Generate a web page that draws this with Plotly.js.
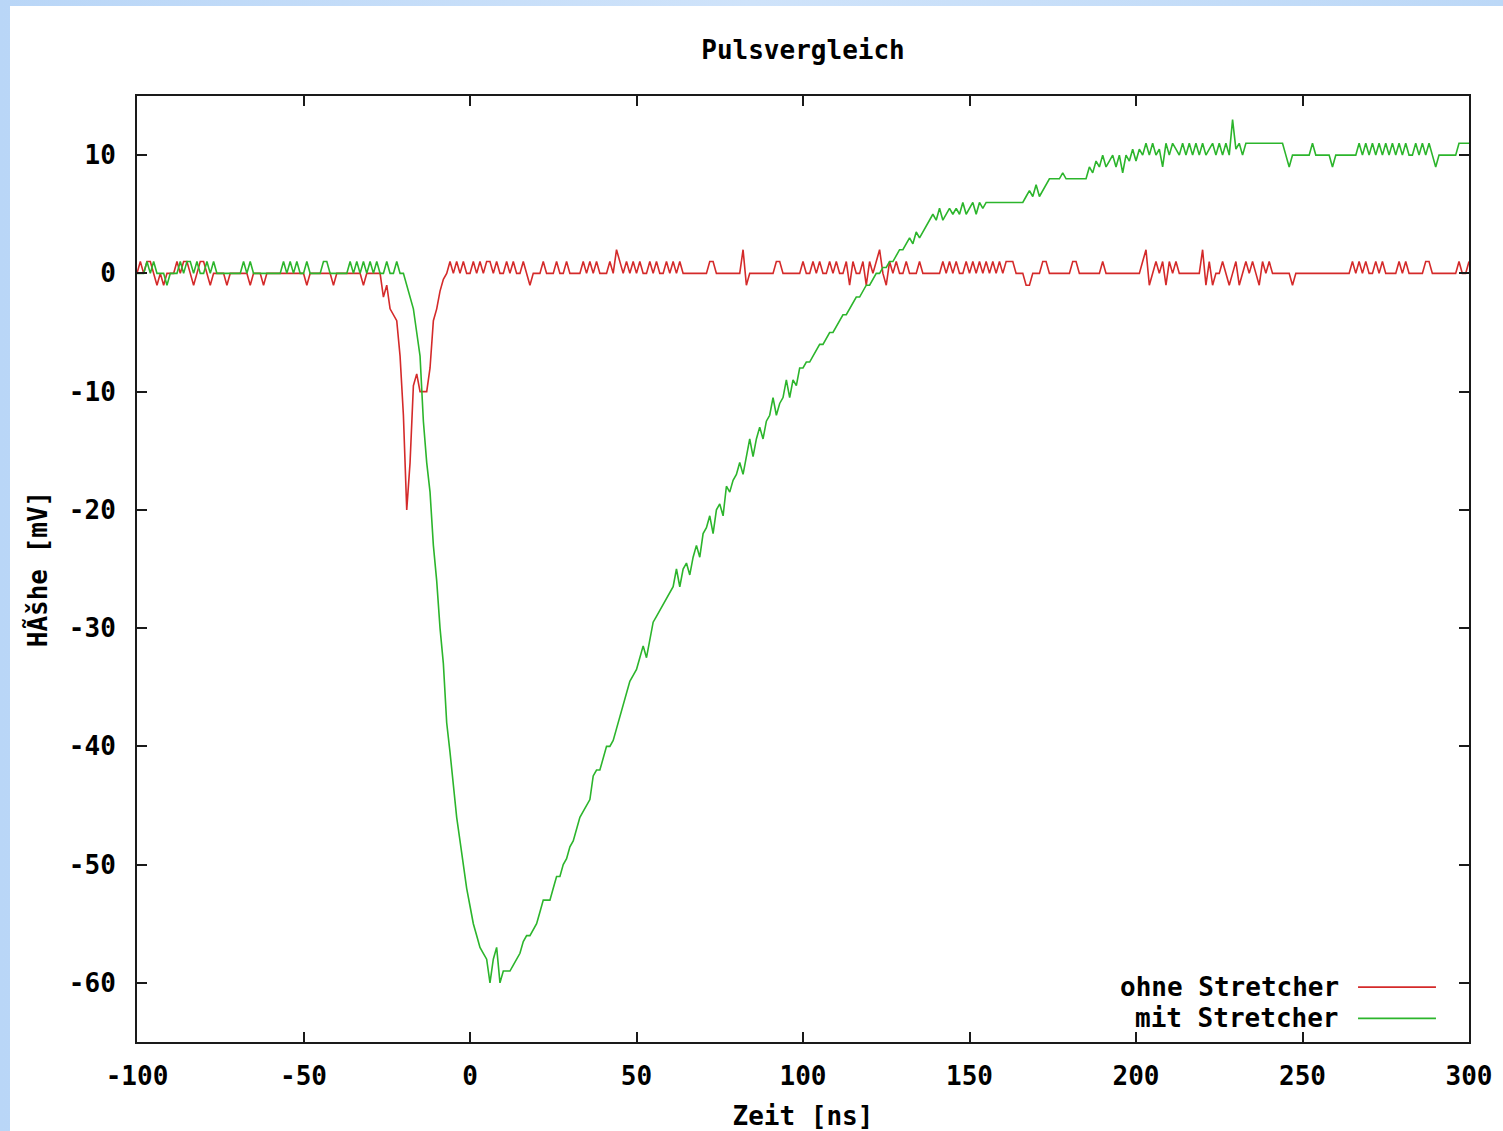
<!DOCTYPE html>
<html>
<head>
<meta charset="utf-8">
<script src="https://cdn.plot.ly/plotly-3.0.1.min.js"></script>
<style>
  html, body { margin: 0; padding: 0; width: 1503px; height: 1131px; overflow: hidden;
    background: linear-gradient(90deg, #b9d6f7 0%, #cfe3fa 50%, #bcd8f7 100%); }
  #chart { position: absolute; left: 10px; top: 6px; width: 1493px; height: 1125px; background: #ffffff; }
</style>
</head>
<body>
<div id="chart"></div>
<script>
// ---- data ----
const chartTitle = "Pulsvergleich";
const xAxisTitle = "Zeit [ns]";
const yAxisTitle = "HÃšhe [mV]";
const seriesNames = ["ohne Stretcher", "mit Stretcher"];
const seriesColors = ["#d42a2a", "#2cb52c"];
const timeStart = -100;   // ns, first sample
const timeStep = 1;       // ns between samples
const xTicks = [-100, -50, 0, 50, 100, 150, 200, 250, 300];
const yTicks = [-60, -50, -40, -30, -20, -10, 0, 10];

// ohne Stretcher, samples from -100 ns to 300 ns
const ohneStretcher = [
  0,1,0,1,1,0,-1,0,-1,0, 0,0,1,0,1,1,0,-1,0,1, 1,0,-1,0,0,0,0,-1,0,0,
  0,0,0,0,-1,0,0,0,-1,0, 0,0,0,0,0,0,0,0,0,0, 0,-1,0,0,0,0,0,0,0,-1,
  0,0,0,0,0,0,0,0, -1,0,0,0,0,
  0,-2,-1,-3,-3.5,-4,-7,-12,-20,-16,-9.5,-8.5,-10,-10,-10,-8,-4,-3,-1.5,-0.5,0,
  1,0,1,0,1,0,0,1,0,1,0,1,1,0,1,0,0,1,0,1,0,0,1,0,
  -1,0,0,0,1,0,0,0,1,0, 0,1,0,0,0,0,1,0,1,0, 1,0,0,0,1,0,2,1,0,1, 0,1,0,1,0,0,1,0,1,0, 0,1,0,
  1,0,1,0,0,0,0,0,0,0, 0,1,1,0,0,0,0,0,0,0, 0,2,-1,0,0,0,0,0,0,0, 0,1,1,0,0,0,0,0,0,1,
  0,0,1,0,1,0,0,1,0,1, 0,0,1,-1,1,0,0,1,-1,1, 0,1,2,0,-1,1,0,1,0,0, 1,0,0,0,1,0,0,0,0,0,
  0,1,0,1,0,1,0,0,1,0, 1,0,1,0,1,0,1,0,1,0, 1,1,1,0,0,0,-1,-1,0,0, 0,1,1,0,0,0,0,0,0,0,
  1,1,0,0,0,0,0,0,0,1, 0,0,0,0,0,0,0,0,0,0, 0,1,2,-1,0,1,0,1,-1,1, 0,1,0,0,0,0,0,0,0,2,
  -1,1,-1,0,0,1,0,-1,0,1, -1,0,1,0,1,0,-1,1,0,1, 0,0,0,0,0,0,-1,0,0,0, 0,0,0,0,0,0,0,0,0,0,
  0,0,0,0,1,0,1,0,1,0, 0,1,0,1,0,0,0,0,1,0, 1,0,0,0,0,0,1,1,0,0, 0,0,0,0,0,0,1,0,0,1
];

// mit Stretcher, samples from -100 ns to 300 ns
const mitStretcher = [
  0,0,0,1,0,1,0,0,0,-1, 0,0,0,1,0,1,1,0,1,0, 0,1,0,1,0,0,0,0,0,0,
  0,0,1,0,1,0,0,0,0,0, 0,0,0,0,1,0,1,0,1,0, 0,1,0,0,0,0,1,1,0,0,
  0,0,0,0,1,0,1,0,1,0, 1,0,1,0,0,1,0,0,1,0,
  0,-1,-2,-3,-5,-7,-12.5,-16,-18.5,-23, -26,-30,-33,-38,-40.5,-43.5,-46,-48,-50,-52,
  -53.5,-55,-56,-57,-57.5,-58,-60,-58,-57,-60, -59,-59,-59,-58.5,-58,-57.5,-56.5,-56,-56,-55.5,
  -55,-54,-53,-53,-53,-52,-51,-51,-50,-49.5, -48.5,-48,-47,-46,-45.5,-45,-44.5,-42.5,-42,-42,
  -41,-40,-40,-39.5,-38.5,-37.5,-36.5,-35.5,-34.5,-34, -33.5,-32.5,-31.5,-32.5,-31,-29.5,-29,-28.5,-28,-27.5,
  -27,-26.5,-25,-26.5,-25,-24.5,-25.5,-24,-23,-24, -22,-21.5,-20.5,-22,-20,-19.5,-20.5,-18,-18.5,-17.5,
  -17,-16,-17,-15.5,-14,-15.5,-14,-13,-14,-12.5, -12,-10.5,-12,-11,-10.5,-9,-10.5,-9,-9.5,-8,
  -8,-7.5,-7.5,-7,-6.5,-6,-6,-5.5,-5,-5, -4.5,-4,-3.5,-3.5,-3,-2.5,-2,-2,-1.5,-1,
  -1,-0.5,0,0,0.5,0.5,1,1,1.5,2, 2,2.5,3,2.5,3.5,3,3.5,4,4.5,5,
  4.5,5.5,4.5,5,5.5,5,5.5,5,6,5, 5.5,6,5,6,5.5,6,6,6,6,6,
  6,6,6,6,6,6,6,6.5,7,6.5, 7.5,6.5,7,7.5,8,8,8,8,8.5,8,
  8,8,8,8,8,8,9,8.5,9.5,9, 10,9,9.5,10,9,10,8.5,10,9.5,10.5,
  9.5,10.5,10,11,10,11,10,10.5,9,11, 10,11,10.5,10,11,10,11,10,11,10,
  11,10,10.5,11,10,11,10,11,10,13, 10.5,11,10,11,11,11,11,11,11,11,
  11,11,11,11,11,10,9,10,10,10, 10,10,10,11,10,10,10,10,10,9,
  10,10,10,10,10,10,10,11,10,11, 10,11,10,11,10,11,10,11,10,11,
  10,11,10,10,11,10,11,10,11,10, 9,10,10,10,10,10,10,11,11,11,11
];

const seriesValues = [ohneStretcher, mitStretcher];

// ---- chart ----
const FONT = '"DejaVu Sans Mono", "Liberation Mono", monospace';
const FS = 26;
const traces = seriesValues.map((vals, k) => ({
  type: 'scatter',
  mode: 'lines',
  name: seriesNames[k],
  x0: timeStart,
  dx: timeStep,
  y: vals,
  line: { color: seriesColors[k], width: 1.6 },
  showlegend: false,
  hoverinfo: 'skip'
}));

// custom gnuplot-style legend (text right, sample line on the right)
const legendRowsY = [0.058, 0.025];
const annotations = seriesNames.map((nm, k) => ({
  xref: 'paper', yref: 'paper', x: 0.904, y: legendRowsY[k],
  xanchor: 'right', yanchor: 'middle', showarrow: false,
  text: nm, font: { family: FONT, size: FS, color: '#000', weight: 'bold' }
}));
const shapes = seriesNames.map((nm, k) => ({
  type: 'line', xref: 'paper', yref: 'paper',
  x0: 0.9167, x1: 0.9752, y0: legendRowsY[k], y1: legendRowsY[k],
  line: { color: seriesColors[k], width: 1.6 }
}));

const axisCommon = {
  showline: true, linecolor: '#1a1a1a', linewidth: 2,
  mirror: 'ticks', ticks: 'inside', ticklen: 10, tickwidth: 2, tickcolor: '#1a1a1a',
  showgrid: false, zeroline: false,
  tickfont: { family: FONT, size: FS, color: '#000', weight: 'bold' }
};

const layout = {
  width: 1493, height: 1125,
  paper_bgcolor: '#ffffff', plot_bgcolor: '#ffffff',
  margin: { l: 127, r: 34, t: 90, b: 89 },
  title: {
    text: chartTitle, x: 0.5, xref: 'paper', y: 1 - 44 / 1125, yref: 'container',
    xanchor: 'center', yanchor: 'middle',
    font: { family: FONT, size: FS, color: '#000', weight: 'bold' }
  },
  xaxis: Object.assign({}, axisCommon, {
    range: [-100, 300], tickvals: xTicks, ticktext: xTicks.map(String),
    ticklabelstandoff: 10,
    title: { text: xAxisTitle, standoff: 20, font: { family: FONT, size: FS, color: '#000', weight: 'bold' } }
  }),
  yaxis: Object.assign({}, axisCommon, {
    range: [-65, 15], tickvals: yTicks, ticktext: yTicks.map(String),
    ticklabelstandoff: 14,
    title: { text: yAxisTitle, standoff: 14, font: { family: FONT, size: FS, color: '#000', weight: 'bold' } }
  }),
  annotations: annotations,
  shapes: shapes,
  showlegend: false
};

Plotly.newPlot('chart', traces, layout, { displayModeBar: false, staticPlot: true });
</script>
</body>
</html>
